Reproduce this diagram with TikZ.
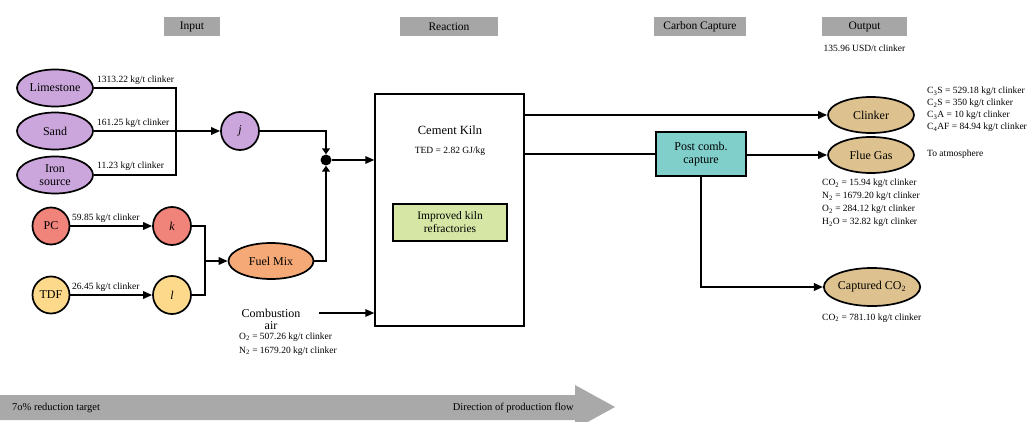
\documentclass[tikz,border=0pt]{standalone}
\usepackage{fontspec}
\setmainfont{Liberation Serif}
\usetikzlibrary{arrows.meta,shapes.geometric}
\definecolor{hdrgray}{HTML}{A6A6A6}
\definecolor{bandgray}{HTML}{A9A9A9}
\definecolor{purp}{HTML}{CBA6DD}
\definecolor{redc}{HTML}{F0837A}
\definecolor{yelc}{HTML}{FDD98B}
\definecolor{fuelc}{HTML}{F4A977}
\definecolor{tanc}{HTML}{DDC28F}
\definecolor{tealc}{HTML}{80CFCB}
\definecolor{greenc}{HTML}{D5E6A5}
\begin{document}
\begin{tikzpicture}[x=1pt,y=-1pt,
  hdr/.style={fill=hdrgray, minimum height=19pt, inner sep=0pt, font=\fontsize{11.5}{12}\selectfont},
  ell/.style={ellipse, draw=black, line width=1.7pt, inner sep=0pt, font=\fontsize{12}{13}\selectfont, align=center},
  circ/.style={circle, draw=black, line width=1.7pt, inner sep=0pt, font=\fontsize{12}{13}\selectfont},
  lab/.style={inner sep=0pt, font=\fontsize{9.5}{12}\selectfont},
  conn/.style={line width=1.7pt},
  arr/.style={conn, -{Triangle[length=9pt,width=7.5pt]}},
  sarr/.style={conn, -{Triangle[length=6pt,width=8pt]}}]
\useasboundingbox (0,0) rectangle (1030,422);
\fill[white] (0,0) rectangle (1030,422);

% headers
\node[hdr, minimum width=56pt] (hin) at (192,26.5) {Input};
\node[hdr, minimum width=98pt] (hre) at (449,26.5) {Reaction};
\node[hdr, minimum width=92pt] (hcc) at (700,26.5) {Carbon Capture};
\node[hdr, minimum width=85pt] (hout) at (864.5,26.5) {Output};
\node[lab] (usd) at (864.5,48) {135.96 USD/t clinker};

% raw materials
\node[ell, fill=purp, minimum width=76pt, minimum height=37pt] (lime) at (55,88) {Limestone};
\node[ell, fill=purp, minimum width=76pt, minimum height=37pt] (sand) at (55,131) {Sand};
\node[ell, fill=purp, minimum width=76pt, minimum height=37pt, font=\fontsize{12}{13}\selectfont] (iron) at (55,175) {Iron\\source};
\node[circ, fill=purp, minimum size=38pt] (j) at (240,131) {\itshape j};
\coordinate (bus) at (176,131);
\draw[conn] (lime.east) -| (bus) |- (iron.east);
\draw[arr] (sand.east) -- (j.west);
\node[lab, anchor=south west] (l1) at (97,85) {1313.22 kg/t clinker};
\node[lab, anchor=south west] (l2) at (97,128) {161.25 kg/t clinker};
\node[lab, anchor=south west] (l3) at (97,171) {11.23 kg/t clinker};

% fuels
\node[circ, fill=redc, minimum size=37pt] (pc) at (51,226) {PC};
\node[circ, fill=redc, minimum size=38pt] (k) at (172,226) {\itshape k};
\node[circ, fill=yelc, minimum size=37pt] (tdf) at (51,295) {TDF};
\node[circ, fill=yelc, minimum size=38pt] (l) at (172,295) {\itshape l};
\draw[arr] (pc.east) -- (k.west);
\draw[arr] (tdf.east) -- (l.west);
\node[lab, anchor=south west] (l4) at (72,223) {59.85 kg/t clinker};
\node[lab, anchor=south west] (l5) at (72,292) {26.45 kg/t clinker};
\node[ell, fill=fuelc, minimum width=85pt, minimum height=36pt] (fuel) at (271,261) {Fuel Mix};
\coordinate (fm) at (205,261);
\draw[conn] (k.east) -| (fm) |- (l.east);
\draw[arr] (fm) -- (fuel.west);

% junction
\node[circle, fill=black, inner sep=0pt, minimum size=11pt] (dot) at (326,160) {};
\draw[sarr] (j.east) -| (dot.north);
\draw[sarr] (fuel.east) -| (dot.south);

% kiln
\node[draw=black, line width=1.4pt, minimum width=149pt, minimum height=232pt, inner sep=0pt] (kiln) at (449.5,210) {};
\draw[arr] (dot.east) -- (dot -| kiln.west);
\node[inner sep=0pt, font=\fontsize{12.5}{13}\selectfont] (kt) at (450,130) {Cement Kiln};
\node[lab] (ted) at (450,151) {TED = 2.82 GJ/kg};
\node[draw=black, line width=1.4pt, fill=greenc, minimum width=114pt, minimum height=37pt, inner sep=0pt, align=center, font=\fontsize{11.5}{13}\selectfont] (refr) at (450,222.5) {Improved kiln\\refractories};

% combustion air
\node[inner sep=0pt, align=center, font=\fontsize{12}{12}\selectfont] (ca) at (271,319) {Combustion\\air};
\coordinate (cas) at (319,313);
\draw[arr] (cas) -- (cas -| kiln.west);
\node[lab, anchor=west] (o2) at (239,337) {O\textsubscript{2} = 507.26 kg/t clinker};
\node[lab, anchor=west] (n2) at (239,351) {N\textsubscript{2} = 1679.20 kg/t clinker};

% carbon capture
\node[draw=black, line width=1.4pt, fill=tealc, minimum width=90pt, minimum height=44pt, inner sep=0pt, align=center, font=\fontsize{12}{13}\selectfont] (post) at (701,154) {Post comb.\\capture};

% outputs
\node[ell, fill=tanc, minimum width=86pt, minimum height=36pt] (clk) at (871,115) {Clinker};
\node[ell, fill=tanc, minimum width=86pt, minimum height=36pt] (flue) at (871,155) {Flue Gas};
\node[ell, fill=tanc, minimum width=86pt, minimum height=38pt] (cap) at (872,287) {Captured CO\textsubscript{2}};

\draw[arr] (kiln.east |- clk) -- (clk.west);
\draw[conn] (kiln.east |- post) -- (post.west);
\draw[arr] (post.east |- flue) -- (flue.west);
\draw[arr] (post.south) |- (cap.west);

\node[lab, anchor=north west, align=left] (clkl) at (927,87) {C\textsubscript{3}S = 529.18 kg/t clinker\\C\textsubscript{2}S = 350 kg/t clinker\\C\textsubscript{3}A = 10 kg/t clinker\\C\textsubscript{4}AF = 84.94 kg/t clinker};
\node[lab, anchor=west] (atm) at (927,154) {To atmosphere};
\node[lab, anchor=north west, align=left, font=\fontsize{9.5}{13}\selectfont] (fluel) at (822,179) {CO\textsubscript{2} = 15.94 kg/t clinker\\N\textsubscript{2} = 1679.20 kg/t clinker\\O\textsubscript{2} = 284.12 kg/t clinker\\H\textsubscript{2}O = 32.82 kg/t clinker};
\node[lab, anchor=west] (capl) at (822,318) {CO\textsubscript{2} = 781.10 kg/t clinker};

% bottom band arrow
\fill[bandgray] (0,395) -- (575,395) -- (575,385) -- (615,407) -- (575,429) -- (575,420) -- (0,420) -- cycle;
\node[inner sep=0pt, anchor=west, font=\fontsize{10.5}{12}\selectfont] (red) at (12,407.5) {7o\% reduction target};
\node[inner sep=0pt, anchor=east, font=\fontsize{10.5}{12}\selectfont] (dir) at (574,407.5) {Direction of production flow};
\end{tikzpicture}
\end{document}
